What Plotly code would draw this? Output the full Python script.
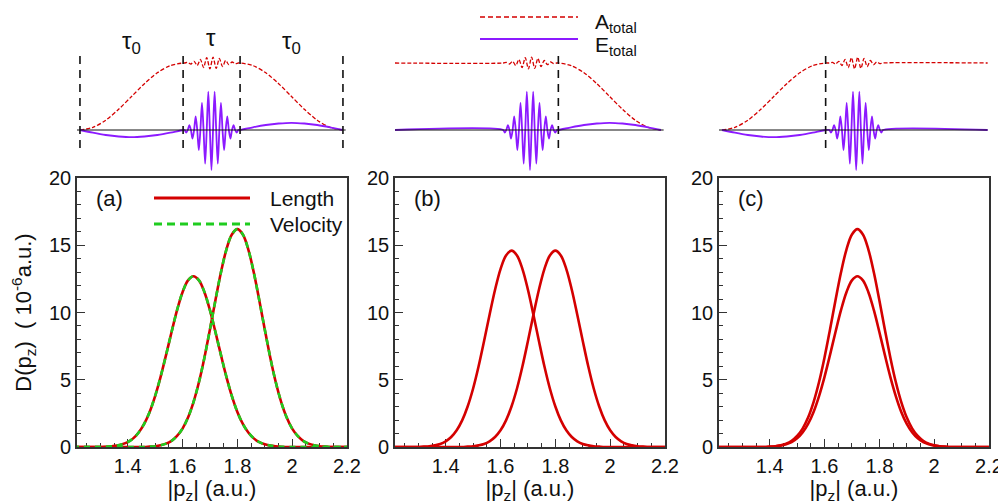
import plotly.graph_objects as go

FONT = "Liberation Sans, Arial, Helvetica, sans-serif"
RED = "#d40000"
GREEN = "#1fcc1f"
PURPLE = "#8c1aff"
AX = "#333333"

# ---------------- main panels: D(p_z) in 1e-6 a.u. ----------------
pz = [1.20, 1.22, 1.24, 1.26, 1.28, 1.30, 1.32, 1.34, 1.36, 1.38,
      1.40, 1.42, 1.44, 1.46, 1.48, 1.50, 1.52, 1.54, 1.56, 1.58,
      1.60, 1.62, 1.64, 1.66, 1.68, 1.70, 1.72, 1.74, 1.76, 1.78,
      1.80, 1.82, 1.84, 1.86, 1.88, 1.90, 1.92, 1.94, 1.96, 1.98,
      2.00, 2.02, 2.04, 2.06, 2.08, 2.10, 2.12, 2.14, 2.16, 2.18, 2.20]

a_left = [0, 0, 0, 0, 0, 0, 0.02, 0.05, 0.10, 0.20,
          0.36, 0.64, 1.08, 1.72, 2.61, 3.79, 5.22, 6.85, 8.55, 10.17,
          11.51, 12.39, 12.70, 12.39, 11.51, 10.17, 8.55, 6.85, 5.22, 3.79,
          2.61, 1.72, 1.08, 0.64, 0.36, 0.20, 0.10, 0.05, 0.02, 0,
          0, 0, 0, 0, 0, 0, 0, 0, 0, 0, 0]
a_right = [0, 0, 0, 0, 0, 0, 0, 0, 0, 0,
           0, 0, 0, 0, 0.03, 0.06, 0.13, 0.25, 0.46, 0.82,
           1.37, 2.19, 3.34, 4.83, 6.66, 8.74, 10.91, 12.97, 14.68, 15.80,
           16.20, 15.80, 14.68, 12.97, 10.91, 8.74, 6.66, 4.83, 3.34, 2.19,
           1.37, 0.82, 0.46, 0.25, 0.13, 0.06, 0.03, 0, 0, 0, 0]
b_left = [0, 0, 0, 0, 0, 0, 0.03, 0.06, 0.12, 0.22,
          0.42, 0.74, 1.24, 1.98, 3.01, 4.35, 6.00, 7.88, 9.83, 11.69,
          13.23, 14.24, 14.60, 14.24, 13.23, 11.69, 9.83, 7.88, 6.00, 4.35,
          3.01, 1.98, 1.24, 0.74, 0.42, 0.22, 0.12, 0.06, 0.03, 0,
          0, 0, 0, 0, 0, 0, 0, 0, 0, 0, 0]
b_right = [0, 0, 0, 0, 0, 0, 0, 0, 0, 0,
           0, 0, 0, 0, 0.03, 0.06, 0.12, 0.22, 0.42, 0.74,
           1.24, 1.98, 3.01, 4.35, 6.00, 7.88, 9.83, 11.69, 13.23, 14.24,
           14.60, 14.24, 13.23, 11.69, 9.83, 7.88, 6.00, 4.35, 3.01, 1.98,
           1.24, 0.74, 0.42, 0.22, 0.12, 0.06, 0.03, 0, 0, 0, 0]
c_high = [0, 0, 0, 0, 0, 0, 0, 0, 0, 0,
          0.03, 0.06, 0.13, 0.25, 0.46, 0.82, 1.37, 2.19, 3.34, 4.83,
          6.66, 8.74, 10.91, 12.97, 14.68, 15.80, 16.20, 15.80, 14.68, 12.97,
          10.91, 8.74, 6.66, 4.83, 3.34, 2.19, 1.37, 0.82, 0.46, 0.25,
          0.13, 0.06, 0.03, 0, 0, 0, 0, 0, 0, 0, 0]
c_low = [0, 0, 0, 0, 0, 0, 0, 0, 0, 0,
         0.02, 0.05, 0.10, 0.20, 0.36, 0.64, 1.08, 1.72, 2.61, 3.79,
         5.22, 6.85, 8.55, 10.17, 11.51, 12.39, 12.70, 12.39, 11.51, 10.17,
         8.55, 6.85, 5.22, 3.79, 2.61, 1.72, 1.08, 0.64, 0.36, 0.20,
         0.10, 0.05, 0.02, 0, 0, 0, 0, 0, 0, 0, 0]

x_tickvals = [1.4, 1.6, 1.8, 2.0, 2.2]
x_ticktext = ["1.4", "1.6", "1.8", "2", "2.2"]
panel_labels = ["(a)", "(b)", "(c)"]

# ---------------- schematic pulses (arbitrary units) ----------------
ramp_frac = [0, 0.125, 0.25, 0.375, 0.5, 0.625, 0.75, 0.875, 1.0]
A_ramp = [0, 2.6, 9.8, 20.7, 33.5, 46.3, 57.2, 64.4, 67.0]
E_lobe = [0, 2.7, 5.0, 6.5, 7.2, 6.5, 5.0, 2.7, 0]
E_burst = [-2.6, 4.9, -8.6, 13.7, -20.2, 27.2, -33.7, 38.3, -40.0,
           38.3, -33.7, 27.2, -20.2, 13.7, -8.6, 4.9, -2.6]
A_wiggle = [0.6, -1.0, 1.7, -2.5, 3.6, -4.6, 5.4, -5.9,
            5.9, -5.4, 4.6, -3.6, 2.5, -1.7, 1.0, -0.6]
A_plateau = 67.0
half_period = 0.117

pulse_a = dict(rise=(0.11, 3.93), burst=4.98, fall=(6.04, 9.85), end=9.95,
               marks=[0.11, 3.93, 6.04, 9.85])
pulse_b = dict(rise=None, burst=5.0, fall=(6.05, 9.85), end=9.95, marks=[6.05])
pulse_c = dict(rise=(0.11, 3.95), burst=5.08, fall=None, end=9.95, marks=[3.95])

# the page body adds an 8px offset, so the figure is 8px smaller on each axis
OFF = 8
W, H = 1006 - OFF, 504 - OFF


def px_x(p):
    return (p - OFF) / W


def px_y(p):
    return 1 - (p - OFF) / H


main_dom = [[77, 347], [395, 665], [719, 989]]
main_y = [px_y(447), px_y(178)]
sch_y = [px_y(175), px_y(15)]


def pulse_curves(p):
    ax, ay, ex, ey = [], [], [], []
    if p["rise"]:
        t0, t1 = p["rise"]
        for f, a, e in zip(ramp_frac, A_ramp, E_lobe):
            ax.append(t0 + f * (t1 - t0)); ay.append(a)
            ex.append(t0 + f * (t1 - t0)); ey.append(-e)
    else:
        ax.append(0); ay.append(A_plateau); ex.append(0); ey.append(0)
    c = p["burst"]
    n = len(E_burst) // 2
    ax.append(c - (n + 0.5) * half_period); ay.append(A_plateau)
    for j, w in enumerate(A_wiggle):
        ax.append(c + (j - n + 0.5) * half_period); ay.append(A_plateau + w)
    ax.append(c + (n + 0.5) * half_period); ay.append(A_plateau)
    ex.append(c - (n + 0.5) * half_period); ey.append(0)
    for k, v in enumerate(E_burst):
        ex.append(c + (k - n) * half_period); ey.append(v)
        ex.append(c + (k - n + 0.5) * half_period); ey.append(0)
    if p["fall"]:
        t0, t1 = p["fall"]
        for f, a, e in zip(ramp_frac, A_ramp[::-1], E_lobe):
            ax.append(t0 + f * (t1 - t0)); ay.append(a)
            ex.append(t0 + f * (t1 - t0)); ey.append(e)
    else:
        ax.append(p["end"]); ay.append(A_plateau)
        ex.append(p["end"]); ey.append(0)
    return ax, ay, ex, ey


fig = go.Figure()

main_sets = [
    ("x", "y", [a_left, a_right]),
    ("x2", "y2", [b_left, b_right]),
    ("x3", "y3", [c_high, c_low]),
]
for xa, ya, curves in main_sets:
    for cv in curves:
        fig.add_trace(go.Scatter(x=pz, y=cv, xaxis=xa, yaxis=ya, mode="lines",
                                 line=dict(color=RED, width=2.6, shape="spline"),
                                 showlegend=False, hoverinfo="skip"))
    if xa == "x":
        for cv in curves:
            fig.add_trace(go.Scatter(x=pz, y=cv, xaxis=xa, yaxis=ya, mode="lines",
                                     line=dict(color=GREEN, width=2.6, dash="6px,5px",
                                               shape="spline"),
                                     showlegend=False, hoverinfo="skip"))

for i, p in enumerate([pulse_a, pulse_b, pulse_c]):
    xa, ya = "x%d" % (i + 4), "y%d" % (i + 4)
    ax, ay, ex, ey = pulse_curves(p)
    fig.add_trace(go.Scatter(x=ax, y=ay, xaxis=xa, yaxis=ya, mode="lines",
                             line=dict(color=RED, width=1.3, dash="4px,2px", shape="spline",
                                       smoothing=0.8),
                             showlegend=False, hoverinfo="skip"))
    fig.add_trace(go.Scatter(x=ex, y=ey, xaxis=xa, yaxis=ya, mode="lines",
                             line=dict(color=PURPLE, width=1.8, shape="spline", smoothing=0.8),
                             showlegend=False, hoverinfo="skip"))
    fig.add_trace(go.Scatter(x=[0, p["end"]], y=[0, 0], xaxis=xa, yaxis=ya, mode="lines",
                             line=dict(color="#111111", width=1),
                             showlegend=False, hoverinfo="skip"))
    mx, my = [], []
    for m in p["marks"]:
        mx += [m, m, None]
        my += [-18, 75, None]
    fig.add_trace(go.Scatter(x=mx, y=my, xaxis=xa, yaxis=ya, mode="lines",
                             line=dict(color="#111111", width=1.6, dash="8px,6px"),
                             showlegend=False, hoverinfo="skip"))

layout = dict(width=W, height=H, autosize=False, margin=dict(l=0, r=0, t=0, b=0, pad=0),
              paper_bgcolor="white", plot_bgcolor="white",
              font=dict(family=FONT, color="#111111", size=20), showlegend=False)

for i in range(3):
    sfx = "" if i == 0 else str(i + 1)
    d = main_dom[i]
    layout["xaxis" + sfx] = dict(
        domain=[px_x(d[0]), px_x(d[1])], anchor="y" + sfx, range=[1.215, 2.2],
        automargin=False,
        tickmode="array", tickvals=x_tickvals, ticktext=x_ticktext,
        ticks="inside", ticklen=8, tickwidth=1.3, tickcolor=AX,
        minor=dict(tickmode="linear", tick0=1.2, dtick=0.05, ticks="inside",
                   ticklen=4, tickwidth=1, tickcolor=AX),
        showline=True, linecolor=AX, linewidth=1.6, mirror=True,
        showgrid=False, zeroline=False, layer="below traces",
        tickfont=dict(size=20, family=FONT, color="#111111"),
        title=dict(text="|p<sub>z</sub>| (a.u.)", font=dict(size=22, family=FONT),
                   standoff=0))
    layout["yaxis" + sfx] = dict(
        domain=main_y, anchor="x" + sfx, range=[0, 20], automargin=False,
        tickmode="linear", tick0=0, dtick=5,
        ticks="inside", ticklen=8, tickwidth=1.3, tickcolor=AX,
        minor=dict(tickmode="linear", tick0=0, dtick=1, ticks="inside",
                   ticklen=4, tickwidth=1, tickcolor=AX),
        showline=True, linecolor=AX, linewidth=1.6, mirror=True,
        showgrid=False, zeroline=False, layer="below traces",
        tickfont=dict(size=20, family=FONT, color="#111111"))
    layout["xaxis%d" % (i + 4)] = dict(domain=[px_x(d[0]), px_x(d[1])], anchor="y%d" % (i + 4),
                                      range=[0, 10], visible=False, automargin=False)
    layout["yaxis%d" % (i + 4)] = dict(domain=sch_y, anchor="x%d" % (i + 4),
                                      range=[-45, 115], visible=False, automargin=False)

layout["yaxis"]["title"] = dict(
    text="D(p<sub>z</sub>)\u00a0\u00a0( 10<sup>-6</sup>a.u.)",
    font=dict(size=22, family=FONT), standoff=12)

shapes = [
    dict(type="line", xref="paper", yref="paper", x0=px_x(480), x1=px_x(578),
         y0=px_y(17), y1=px_y(17), line=dict(color=RED, width=1.5, dash="5px,3px")),
    dict(type="line", xref="paper", yref="paper", x0=px_x(480), x1=px_x(578),
         y0=px_y(39), y1=px_y(39), line=dict(color=PURPLE, width=1.8)),
    dict(type="line", xref="paper", yref="paper", x0=px_x(154), x1=px_x(250),
         y0=px_y(198), y1=px_y(198), line=dict(color=RED, width=3)),
    dict(type="line", xref="paper", yref="paper", x0=px_x(154), x1=px_x(250),
         y0=px_y(224), y1=px_y(224), line=dict(color=GREEN, width=3, dash="8px,5px")),
]

annotations = [
    dict(text="A<sub>total</sub>", x=px_x(593), y=1.0, xref="paper", yref="paper",
         xanchor="left", yanchor="top", showarrow=False, font=dict(size=21, family=FONT)),
    dict(text="E<sub>total</sub>", x=px_x(593), y=px_y(46), xref="paper", yref="paper",
         xanchor="left", yanchor="middle", showarrow=False, font=dict(size=21, family=FONT)),
    dict(text="Length", x=px_x(268), y=px_y(198), xref="paper", yref="paper",
         xanchor="left", yanchor="middle", showarrow=False, font=dict(size=21, family=FONT)),
    dict(text="Velocity", x=px_x(268), y=px_y(224), xref="paper", yref="paper",
         xanchor="left", yanchor="middle", showarrow=False, font=dict(size=21, family=FONT)),
    dict(text="\u03c4<sub>0</sub>", x=2.02, y=88, xref="x4", yref="y4",
         xanchor="center", yanchor="middle", showarrow=False, font=dict(size=24, family=FONT)),
    dict(text="\u03c4", x=4.98, y=93, xref="x4", yref="y4",
         xanchor="center", yanchor="middle", showarrow=False, font=dict(size=24, family=FONT)),
    dict(text="\u03c4<sub>0</sub>", x=7.95, y=88, xref="x4", yref="y4",
         xanchor="center", yanchor="middle", showarrow=False, font=dict(size=24, family=FONT)),
]
for i, lab in enumerate(panel_labels):
    annotations.append(dict(text=lab, x=px_x(main_dom[i][0] + 17), y=px_y(198),
                            xref="paper", yref="paper", xanchor="left", yanchor="middle",
                            showarrow=False, font=dict(size=22, family=FONT)))

layout["shapes"] = shapes
layout["annotations"] = annotations
fig.update_layout(**layout)
fig.write_html("out.html")
